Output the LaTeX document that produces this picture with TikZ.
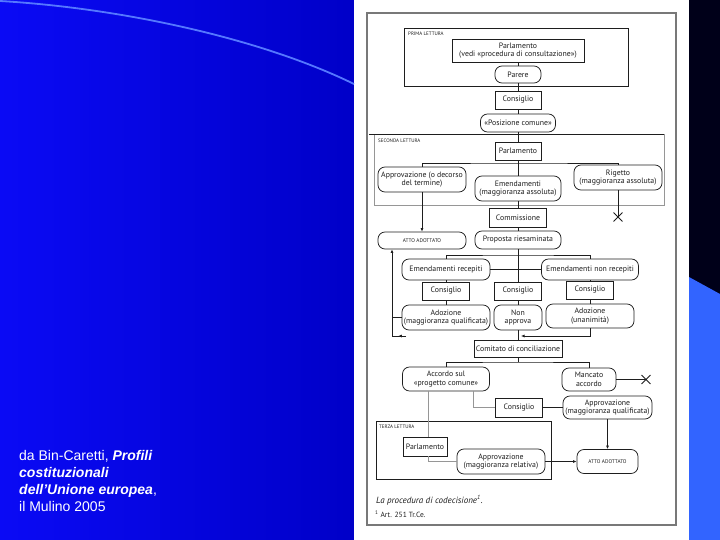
\documentclass[tikz,border=0pt]{standalone}
\usepackage{fontspec}
\setmainfont{Liberation Sans}
\newfontfamily\diagfont{PT Sans}
\usetikzlibrary{arrows.meta,shapes.misc,decorations.markings}
\definecolor{bgL}{RGB}{10,10,245}
\definecolor{bgR}{RGB}{0,0,200}
\definecolor{curveblue}{RGB}{85,120,255}
\definecolor{navy}{RGB}{0,0,25}
\definecolor{stripe}{RGB}{50,100,255}
\definecolor{ink}{RGB}{30,30,30}
\definecolor{faint}{RGB}{150,150,150}
\definecolor{framegrey}{RGB}{120,120,120}
\tikzset{
  wh/.style 2 args={minimum width=#1, minimum height=#2},
  box/.style={draw=ink, line width=0.75pt, rectangle, inner sep=0pt, align=center, font=\diagfont\fontsize{7.8}{8.4}\selectfont, text=ink},
  pill/.style={box, rounded corners=7pt},
  tinyfont/.style={font=\diagfont\fontsize{5.3}{6}\selectfont},
  ln/.style={draw=ink, line width=0.75pt},
  lng/.style={draw=faint, line width=0.75pt},
  arr/.style={ln, -{Latex[length=3.5pt,width=3pt]}},
  regionbox/.style={draw=#1, line width=0.6pt},
  tag/.style={font=\diagfont\fontsize{5}{5.5}\selectfont, text=ink, inner sep=0pt, anchor=north west},
  xmk/.style={draw=ink, cross out, line width=0.9pt, minimum size=8pt, inner sep=0pt},
  midarr/.style={postaction={decorate}, decoration={markings, mark=at position 0.55 with {\arrow{Latex[length=3.5pt,width=3pt]}}}},
}
\begin{document}
\begin{tikzpicture}[x=1pt,y=-1pt]
\useasboundingbox (0,0) rectangle (720,540);
% background
\shade[left color=bgL, right color=bgR] (0,0) rectangle (354,540);
\fill[white] (354,0) rectangle (689,540);
\fill[navy] (689,0) rectangle (720,540);
\fill[stripe] (689,277) -- (720,294) -- (720,540) -- (689,540) -- cycle;
\draw[curveblue, line width=1.8pt] (0,1) .. controls (120,8) and (260,38) .. (354,84);

% source text
\node[anchor=north west, inner sep=0pt, align=left, font=\fontsize{14}{17}\selectfont, text=white] (src) at (19,450)
  {da Bin-Caretti, \textbf{\textit{Profili}}\\ \textbf{\textit{costituzionali}}\\ \textbf{\textit{dell’Unione europea}},\\ il Mulino 2005};

% scanned page frame
\draw[framegrey, line width=1.6pt] (367,13) rectangle (676,525);

% regions
\draw[regionbox=ink] (404,28) rectangle (628,86);
\node[tag] (lab1) at (408,32) {PRIMA LETTURA};
\draw[regionbox=faint] (374,134) rectangle (664,205);
\draw[ln] (369,134) -- (664,134);
\node[tag] (lab2) at (378,139) {SECONDA LETTURA};
\draw[regionbox=ink] (376,421) rectangle (551,479);
\node[tag] (lab3) at (379,425) {TERZA LETTURA};

% nodes
\node[box, wh={132pt}{23pt}] (parl1) at (518,50.5) {Parlamento\\(vedi «procedura di consultazione»)};
\node[pill, wh={46pt}{17pt}] (parere) at (518,74.5) {Parere};
\node[box, wh={46pt}{18pt}] (cons1) at (518,100) {Consiglio};
\node[pill, wh={75pt}{18pt}] (poscom) at (518,123) {«Posizione comune»};
\node[box, wh={46pt}{18pt}] (parl2) at (518,151) {Parlamento};
\node[pill, wh={88pt}{25pt}] (approv1) at (422,179.5) {Approvazione (o decorso\\del termine)};
\node[pill, wh={86pt}{25pt}] (emend) at (518,188.5) {Emendamenti\\(maggioranza assoluta)};
\node[pill, wh={88pt}{25pt}] (rigetto) at (618,177.5) {Rigetto\\(maggioranza assoluta)};
\node[xmk] (x1) at (618,217) {};
\node[box, wh={57pt}{19pt}] (comm) at (518,217.5) {Commissione};
\node[pill, wh={88pt}{17pt}, tinyfont] (atto1) at (422,240.5) {ATTO ADOTTATO};
\node[pill, wh={86pt}{18pt}] (proposta) at (518,240) {Proposta riesaminata};
\node[pill, wh={88pt}{21pt}] (emrec) at (446,269.5) {Emendamenti recepiti};
\node[pill, wh={97pt}{21pt}] (emnon) at (590,269.5) {Emendamenti non recepiti};
\node[box, wh={47pt}{18pt}] (consL) at (446,291) {Consiglio};
\node[box, wh={47pt}{18pt}] (consM) at (518,291) {Consiglio};
\node[box, wh={47pt}{18pt}] (consR) at (590,290) {Consiglio};
\node[pill, wh={88pt}{25pt}] (adozQ) at (446,317.5) {Adozione\\(maggioranza qualificata)};
\node[pill, wh={48pt}{25pt}] (nonapp) at (518,317.5) {Non\\approva};
\node[pill, wh={88pt}{24pt}] (adozU) at (590,316) {Adozione\\(unanimità)};
\node[box, wh={88pt}{17pt}] (comit) at (518,348.5) {Comitato di conciliazione};
\node[pill, wh={87pt}{24pt}] (accordo) at (446,379) {Accordo sul\\«progetto comune»};
\node[pill, wh={54pt}{23pt}] (mancato) at (589,379.5) {Mancato\\accordo};
\node[xmk] (x2) at (646,379.5) {};
\node[box, wh={47pt}{19pt}] (cons3) at (519,407.5) {Consiglio};
\node[pill, wh={89pt}{23pt}] (apprQ) at (607.5,407.5) {Approvazione\\(maggioranza qualificata)};
\node[box, wh={44pt}{19pt}] (parl3) at (425,446.5) {Parlamento};
\node[pill, wh={88pt}{25pt}] (apprR) at (501,461.5) {Approvazione\\(maggioranza relativa)};
\node[pill, wh={61pt}{24pt}, tinyfont] (atto2) at (607.5,461.5) {ATTO ADOTTATO};

% coordinates
\coordinate (b1) at (518,163);
\coordinate (b2) at (518,255);
\coordinate (b3) at (518,362);
\coordinate (fL1) at (392,317.5);
\coordinate (fL2) at (392,336);
\coordinate (fL3) at (406,336);
\coordinate (fR) at (521,336);

% connectors: central axis
\draw[ln] (parl1) -- (parere);
\draw[ln] (parere) -- (cons1);
\draw[ln] (cons1) -- (poscom);
\draw[ln] (poscom) -- (parl2);
\draw[ln] (parl2) -- (emend);
\draw[ln] (emend) -- (comm);
\draw[ln] (comm) -- (proposta);
\draw[ln] (proposta) -- (consM);
\draw[ln] (consM) -- (nonapp);
\draw[ln] (nonapp) -- (comit);

% second reading branches
\draw[ln] (approv1.north) |- (b1) -| (rigetto.north);
\draw[ln] (rigetto.south) -- (x1.center);
\draw[arr] (approv1) -- (atto1);

% after proposal
\draw[ln] (emrec.north) |- (b2) -| (emnon.north);
\draw[ln] (emrec.east) -- (emnon.west);
\draw[ln] (emrec) -- (consL);
\draw[ln] (consL) -- (adozQ);
\draw[ln] (emnon) -- (consR);
\draw[ln] (consR) -- (adozU);
\draw[ln] (adozQ.west) -- (fL1);
\draw[arr] (fL2) -- (fL2 |- atto1.south);
\draw[ln, midarr] (fL3) -- (fL2);
\draw[arr] (adozU.south) |- (fR);

% conciliation
\draw[ln] (comit) -- (b3);
\draw[ln] (accordo.north) |- (b3) -| (mancato.north);
\draw[ln] (mancato.east) -- (x2.center);
\draw[lng] ([xshift=27pt]accordo.south) |- (cons3.west);
\draw[ln] (cons3.east) -- (apprQ.west);
\draw[arr] (apprQ) -- (atto2);
\draw[lng] ([xshift=-18pt]accordo.south) -- ([xshift=-18pt]accordo.south |- parl3.north);
\draw[lng] ([xshift=3pt]parl3.south) |- (apprR.west);
\draw[arr] (apprR.east) -- (atto2.west);

% caption
\node[anchor=west, inner sep=0pt, font=\diagfont\itshape\fontsize{9}{10}\selectfont, text=ink] (cap) at (376,500) {La procedura di codecisione\textsuperscript{1}.};
\node[anchor=west, inner sep=0pt, font=\diagfont\fontsize{7.5}{8}\selectfont, text=ink] (note) at (375,514) {\textsuperscript{1} Art. 251 Tr.Ce.};
\end{tikzpicture}
\end{document}
